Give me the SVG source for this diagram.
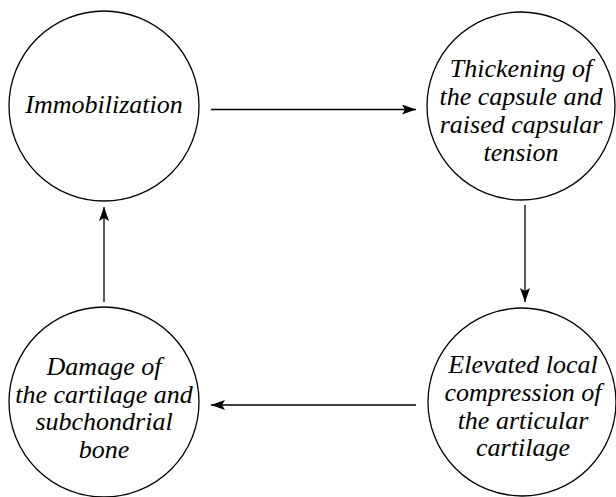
<svg xmlns="http://www.w3.org/2000/svg" width="616" height="497" viewBox="0 0 616 497">
<style>
.n{fill:#fff;stroke:#000;stroke-width:1.3}
text{font-family:'Liberation Serif','Times New Roman',serif;font-style:italic;font-size:26px;fill:#000;text-anchor:middle}
.c{stroke:#000;stroke-width:1.3;fill:none;marker-end:url(#ah)}
</style>
<defs>
<marker id="ah" markerWidth="14" markerHeight="10" refX="14" refY="5" orient="auto" markerUnits="userSpaceOnUse">
<path d="M0,0 L14,5 L0,10 L3,5 Z" fill="#000"/>
</marker>
</defs>
<rect width="616" height="497" fill="#fff"/>
<g id="n1">
<circle class="n" cx="104" cy="106" r="95"/>
<text x="104" y="113">Immobilization</text>
</g>
<g id="n2">
<circle class="n" cx="521" cy="106" r="94"/>
<text x="521" y="77">Thickening of</text>
<text x="521" y="105">the capsule and</text>
<text x="521" y="133">raised capsular</text>
<text x="521" y="161">tension</text>
</g>
<g id="n3">
<circle class="n" cx="522" cy="402" r="94"/>
<text x="523" y="373">Elevated local</text>
<text x="523" y="401">compression of</text>
<text x="523" y="429">the articular</text>
<text x="523" y="456">cartilage</text>
</g>
<g id="n4">
<circle class="n" cx="104" cy="402" r="95"/>
<text x="104" y="375">Damage of</text>
<text x="104" y="403">the cartilage and</text>
<text x="104" y="430">subchondrial</text>
<text x="104" y="458">bone</text>
</g>
<g id="connectors">
<path class="c" d="M211,109.5 L416,109.5"/>
<path class="c" d="M525,205 L525,302"/>
<path class="c" d="M416,405 L211,405"/>
<path class="c" d="M104,302 L104,207"/>
</g>
</svg>
